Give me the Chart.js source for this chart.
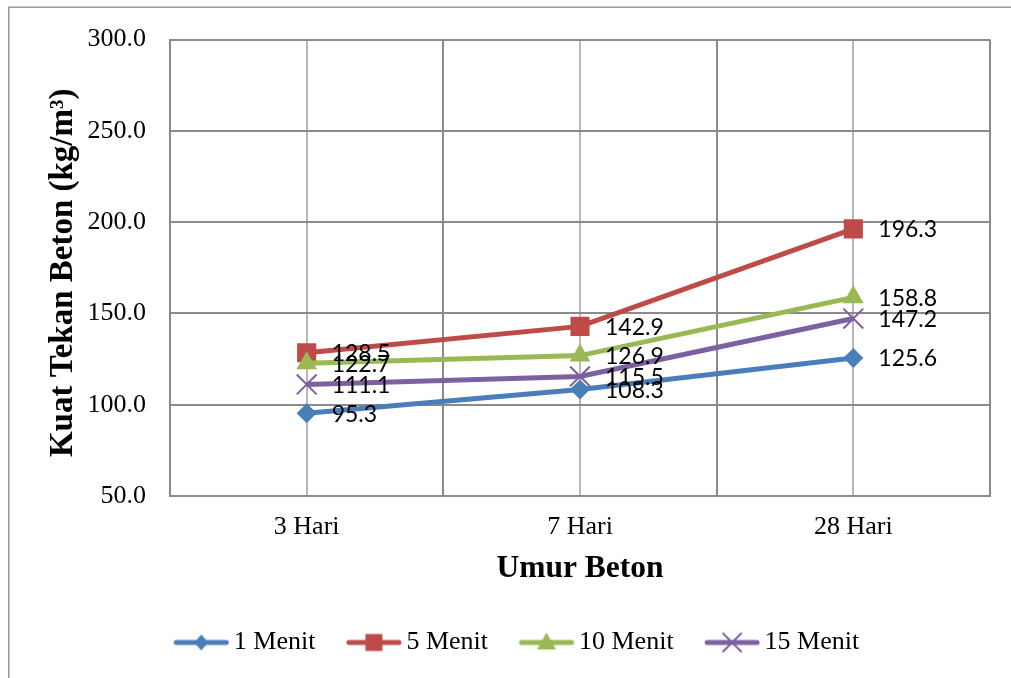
<!DOCTYPE html>
<html>
<head>
<meta charset="utf-8">
<script src="https://cdn.jsdelivr.net/npm/chart.js@4.4.0/dist/chart.umd.min.js"></script>
<style>
  html, body { margin: 0; padding: 0; background: #fff; }
  canvas { display: block; }
</style>
</head>
<body>
<canvas id="chart" width="1011" height="678"></canvas>
<script>
// Compressive strength of concrete by age, one series per mixing time
const categories = ['3 Hari', '7 Hari', '28 Hari'];
const seriesNames = ['1 Menit', '5 Menit', '10 Menit', '15 Menit'];
const menit1 = [95.3, 108.3, 125.6];
const menit5 = [128.5, 142.9, 196.3];
const menit10 = [122.7, 126.9, 158.8];
const menit15 = [111.1, 115.5, 147.2];
const yTicks = [50, 100, 150, 200, 250, 300];

const seriesValues = [menit1, menit5, menit10, menit15];
const seriesColors = ['#4a7ebb', '#be4b48', '#98b954', '#7d60a0'];
const markerStyles = ['rectRot', 'rect', 'triangle', 'crossRot'];
const markerRadius = [10, 13.5, 12, 14];

const serif = '"Times New Roman", "Liberation Serif", serif';
const gridDark = '#8a8a8a';
const gridLight = '#b8b8b8';

// Legend swatches: line segment with the series marker in the middle
function drawMarker(ctx, style, x, y, r, color) {
  ctx.fillStyle = color;
  ctx.strokeStyle = color;
  ctx.beginPath();
  if (style === 'rectRot') {
    ctx.moveTo(x, y - r * 1.15); ctx.lineTo(x + r, y); ctx.lineTo(x, y + r * 1.15); ctx.lineTo(x - r, y);
    ctx.closePath(); ctx.fill();
  } else if (style === 'rect') {
    ctx.rect(x - r, y - r, 2 * r, 2 * r); ctx.fill();
  } else if (style === 'triangle') {
    ctx.moveTo(x, y - r); ctx.lineTo(x + r * 0.95, y + r * 0.7); ctx.lineTo(x - r * 0.95, y + r * 0.7);
    ctx.closePath(); ctx.fill();
  } else {
    ctx.lineWidth = 2;
    ctx.moveTo(x - r, y - r); ctx.lineTo(x + r, y + r);
    ctx.moveTo(x + r, y - r); ctx.lineTo(x - r, y + r);
    ctx.stroke();
  }
}
const legendMarkerSize = [7, 8.5, 10, 9];
const legendIcons = seriesColors.map((color, i) => {
  const c = document.createElement('canvas');
  c.width = 64; c.height = 26;
  const g = c.getContext('2d');
  g.strokeStyle = color;
  g.lineWidth = 5;
  g.lineCap = 'round';
  g.beginPath();
  g.moveTo(11, 13); g.lineTo(61, 13);
  g.stroke();
  drawMarker(g, markerStyles[i], 36, 13, legendMarkerSize[i], color);
  return c;
});

// Outer frame of the chart object
const framePlugin = {
  id: 'frame',
  beforeDraw(chart) {
    const ctx = chart.ctx;
    ctx.save();
    ctx.strokeStyle = '#9a9a9a';
    ctx.lineWidth = 1.5;
    ctx.beginPath();
    ctx.moveTo(8.75, chart.height);
    ctx.lineTo(8.75, 7.25);
    ctx.lineTo(chart.width, 7.25);
    ctx.stroke();
    ctx.restore();
  }
};

// Vertical axis title with a true superscript in the unit
const yTitlePlugin = {
  id: 'yTitle',
  afterDraw(chart) {
    const ctx = chart.ctx;
    const area = chart.chartArea;
    const main = 'Kuat Tekan Beton (kg/m';
    const sup = '3';
    const tail = ')';
    const bigFont = 'bold 33px ' + serif;
    const supFont = 'bold 19px ' + serif;
    ctx.save();
    ctx.fillStyle = '#000';
    ctx.textBaseline = 'alphabetic';
    ctx.textAlign = 'left';
    ctx.font = bigFont;
    const w1 = ctx.measureText(main).width;
    const w3 = ctx.measureText(tail).width;
    ctx.font = supFont;
    const w2 = ctx.measureText(sup).width;
    const total = w1 + w2 + w3;
    const cy = (area.top + area.bottom) / 2 + 5;
    ctx.translate(72, cy + total / 2);
    ctx.rotate(-Math.PI / 2);
    ctx.font = bigFont;
    ctx.fillText(main, 0, 0);
    ctx.font = supFont;
    ctx.fillText(sup, w1, -9);
    ctx.font = bigFont;
    ctx.fillText(tail, w1 + w2, 0);
    ctx.restore();
  }
};

// Value labels to the right of every point
const valueLabels = {
  id: 'valueLabels',
  afterDatasetsDraw(chart) {
    const ctx = chart.ctx;
    ctx.save();
    ctx.font = '23px Lato, "Open Sans", sans-serif';
    ctx.fillStyle = '#000';
    ctx.textBaseline = 'middle';
    ctx.textAlign = 'left';
    chart.data.datasets.forEach((ds, i) => {
      const meta = chart.getDatasetMeta(i);
      meta.data.forEach((pt, j) => {
        ctx.fillText(ds.data[j].y.toFixed(1), pt.x + 25, pt.y + 1);
      });
    });
    ctx.restore();
  }
};

const datasets = seriesNames.map((name, i) => ({
  label: name,
  data: seriesValues[i].map((v, j) => ({ x: j, y: v })),
  borderColor: seriesColors[i],
  backgroundColor: seriesColors[i],
  borderWidth: 5,
  pointStyle: markerStyles[i],
  pointRadius: markerRadius[i],
  pointBorderWidth: markerStyles[i] === 'crossRot' ? 2 : 0,
  pointBorderColor: seriesColors[i],
  pointBackgroundColor: seriesColors[i],
  tension: 0,
  order: seriesNames.length - i
}));

new Chart(document.getElementById('chart'), {
  type: 'line',
  data: { datasets },
  options: {
    responsive: false,
    animation: false,
    layout: { padding: { left: 43, right: 21, top: 37, bottom: 12.5 } },
    plugins: {
      tooltip: { enabled: false },
      legend: {
        position: 'bottom',
        labels: {
          usePointStyle: true,
          pointStyleWidth: 47,
          padding: 31,
          color: '#000',
          font: { family: serif, size: 26 },
          generateLabels: (chart) => chart.data.datasets.map((ds, i) => ({
            text: ds.label,
            pointStyle: legendIcons[i],
            fillStyle: 'transparent',
            strokeStyle: 'transparent',
            lineWidth: 0,
            hidden: false,
            datasetIndex: i,
            fontColor: '#000'
          }))
        }
      }
    },
    scales: {
      x: {
        type: 'linear',
        min: -0.5,
        max: categories.length - 0.5,
        afterFit: (scale) => { scale.height = 102.5; },
        ticks: {
          stepSize: 0.5,
          autoSkip: false,
          maxRotation: 0,
          padding: 16,
          color: '#000',
          font: { family: serif, size: 26 },
          callback: (value) => Number.isInteger(value) ? categories[value] : ''
        },
        grid: {
          drawTicks: false,
          lineWidth: 2,
          color: (ctx) => (ctx.tick && Number.isInteger(ctx.tick.value)) ? gridLight : gridDark
        },
        border: { color: gridDark, width: 2 },
        title: {
          display: true,
          text: 'Umur Beton',
          color: '#000',
          font: { family: serif, size: 31.5, weight: 'bold' },
          padding: { top: 0, bottom: 11 }
        }
      },
      y: {
        min: yTicks[0],
        max: yTicks[yTicks.length - 1],
        afterFit: (scale) => { scale.width = 127; },
        ticks: {
          stepSize: yTicks[1] - yTicks[0],
          padding: 24,
          color: '#000',
          font: { family: serif, size: 26 },
          callback: (value) => value.toFixed(1)
        },
        grid: { drawTicks: false, lineWidth: 2, color: gridDark },
        border: { color: gridDark, width: 2 },
        title: { display: false }
      }
    }
  },
  plugins: [framePlugin, valueLabels, yTitlePlugin]
});
</script>
</body>
</html>
